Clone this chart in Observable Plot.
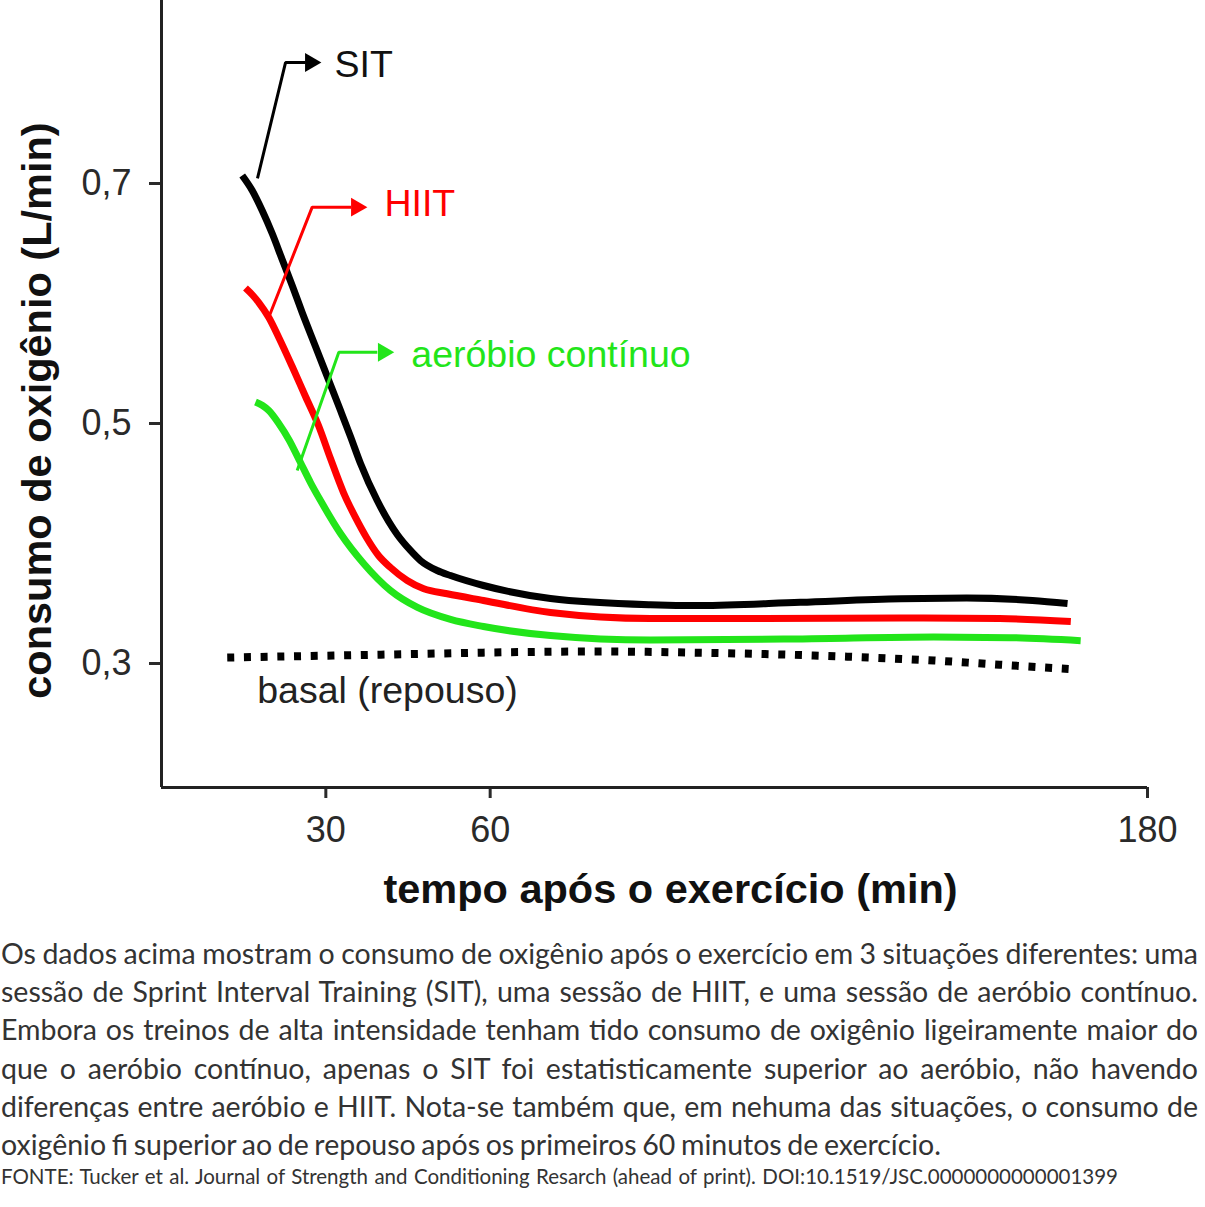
<!DOCTYPE html>
<html>
<head>
<meta charset="utf-8">
<script src="https://cdn.jsdelivr.net/npm/d3@7"></script>
<script src="https://cdn.jsdelivr.net/npm/@observablehq/plot@0.6"></script>
<style>
  html, body { margin: 0; padding: 0; background: #fff; }
  body { width: 1205px; }
  #chart svg { display: block; }
  #caption { font-family: Lato, "Open Sans", sans-serif; color: #333; padding-left: 1px; }
  .ln { font-size: 28.5px; line-height: 38.2px; height: 38.2px; white-space: nowrap; }
  .src { font-size: 20.5px; line-height: 26px; height: 26px; white-space: nowrap; }
  .fit { display: inline-block; }
</style>
</head>
<body>
<div id="chart"></div>
<div id="caption"></div>
<script>
// ---- data ----
const xTicks = [30, 60, 180];
const yTicks = [0.3, 0.5, 0.7];

const sitT = [14.73, 16.56, 18.38, 20.21, 22.03, 23.86, 25.68, 28.11, 30.54, 32.68, 34.5, 36.33, 39.38, 43.03, 45.45, 47.28, 50.33, 52.76, 58.78, 71.01, 89.27, 98.4, 116.6, 135, 147, 159, 165.4];
const sitV = [0.7067, 0.6942, 0.6775, 0.6583, 0.6367, 0.615, 0.5925, 0.5642, 0.5358, 0.5108, 0.4892, 0.4667, 0.4358, 0.4075, 0.3942, 0.3858, 0.3775, 0.3733, 0.365, 0.3542, 0.349, 0.3483, 0.351, 0.354, 0.3545, 0.3525, 0.350];

const hiitT = [15.33, 16.61, 17.76, 19.59, 21.41, 23.86, 26.29, 28.66, 30.85, 33.22, 35.41, 37.42, 39.61, 41.8, 44.85, 47.88, 52.15, 58.78, 71.01, 89.27, 110, 135, 153, 166];
const hiitV = [0.6129, 0.6071, 0.6008, 0.5883, 0.5717, 0.5475, 0.5225, 0.4983, 0.4708, 0.4425, 0.4217, 0.405, 0.39, 0.38, 0.3692, 0.3623, 0.3581, 0.3525, 0.3425, 0.3375, 0.3375, 0.338, 0.3375, 0.335];

const aerT = [17.16, 18.44, 19.59, 21.41, 23.24, 25.37, 27.2, 29.03, 32.68, 36.93, 41.8, 46.73, 52.76, 58.78, 71.01, 89.27, 117, 141, 155, 167.8];
const aerV = [0.5179, 0.515, 0.5108, 0.5, 0.4867, 0.4675, 0.4508, 0.4358, 0.4083, 0.3831, 0.3608, 0.3467, 0.3367, 0.3308, 0.3233, 0.3195, 0.3205, 0.322, 0.3215, 0.319];

const basalT = [12, 30, 47, 65, 80, 98, 117, 129, 141, 153, 165.6];
const basalV = [0.305, 0.3065, 0.308, 0.3095, 0.310, 0.309, 0.307, 0.305, 0.3025, 0.299, 0.2955];

const seriesNames = ["SIT", "HIIT", "aeróbio contínuo", "basal (repouso)"];
const xTitle = "tempo após o exercício (min)";
const yTitle = "consumo de oxigênio (L/min)";

const captionLines = [
  "Os dados acima mostram o consumo de oxigênio após o exercício em 3 situações diferentes: uma",
  "sessão de Sprint Interval Training (SIT), uma sessão de HIIT, e uma sessão de aeróbio contínuo.",
  "Embora os treinos de alta intensidade tenham tido consumo de oxigênio ligeiramente maior do",
  "que o aeróbio contínuo, apenas o SIT foi estatisticamente superior ao aeróbio, não havendo",
  "diferenças entre aeróbio e HIIT. Nota-se também que, em nehuma das situações, o consumo de",
  "oxigênio fi superior ao de repouso após os primeiros 60 minutos de exercício."
];
const sourceLine = "FONTE: Tucker et al. Journal of Strength and Conditioning Resarch (ahead of print). DOI:10.1519/JSC.0000000000001399";

// ---- helpers ----
const rows = (T, V) => T.map((t, i) => ({t, v: V[i]}));

// annotation leaders (label pointers) in data units
const leaders = [
  {color: "#000",    pts: [[17.52, 0.7042], [22.64, 0.8008], [26.3, 0.8008]], head: [27.2, 0.8008],
   label: seriesNames[0], lx: 31.6, ly: 0.7988, fill: "#111"},
  {color: "#ff0000", pts: [[19.59, 0.5886], [27.51, 0.6803], [34.6, 0.6803]], head: [35.6, 0.6803],
   label: seriesNames[1], lx: 40.7, ly: 0.6829, fill: "#ff0000"},
  {color: "#22e51a", pts: [[24.77, 0.4608], [32.37, 0.5594], [39.4, 0.5594]], head: [40.5, 0.5594],
   label: seriesNames[2], lx: 45.6, ly: 0.5571, fill: "#22e51a"}
];

const fmt = d => d.toFixed(1).replace(".", ",");
const lineOpts = {x: "t", y: "v", strokeWidth: 7, strokeLinecap: "butt", curve: "monotone-x"};

const chart = Plot.plot({
  width: 1205,
  height: 934,
  marginLeft: 161,
  marginRight: 58,
  marginTop: 0,
  marginBottom: 147,
  x: {domain: [0, 180]},
  y: {domain: [0.19667, 0.8525]},
  style: {fontFamily: "'Liberation Sans', Arial, sans-serif", fontSize: "36px", background: "#fff", overflow: "visible"},
  marks: [
    Plot.axisX({ticks: xTicks, tickSize: 11, tickPadding: 18, strokeWidth: 3, color: "#2a2a2a", label: null, tickFormat: d => String(d)}),
    Plot.axisY({ticks: yTicks, tickSize: 12, tickPadding: 18, strokeWidth: 3, color: "#2a2a2a", label: null, tickFormat: fmt}),
    Plot.ruleX([0], {stroke: "#222", strokeWidth: 3}),
    Plot.ruleY([0.19667], {stroke: "#222", strokeWidth: 3}),
    // basal dotted line
    Plot.line(rows(basalT, basalV), {x: "t", y: "v", stroke: "#000", strokeWidth: 8, strokeDasharray: "7,9.7", strokeLinecap: "butt", curve: "monotone-x"}),
    // curves
    Plot.line(rows(aerT, aerV), {...lineOpts, stroke: "#22e51a"}),
    Plot.line(rows(hiitT, hiitV), {...lineOpts, stroke: "#ff0000"}),
    Plot.line(rows(sitT, sitV), {...lineOpts, stroke: "#000"}),
    // leaders
    ...leaders.map(L => Plot.line(L.pts, {x: d => d[0], y: d => d[1], stroke: L.color, strokeWidth: 3, strokeLinecap: "butt", strokeLinejoin: "miter"})),
    ...leaders.map(L => Plot.dot([L.head], {x: d => d[0], y: d => d[1], symbol: "triangle", rotate: 90, r: 7, fill: L.color, stroke: null})),
    ...leaders.map(L => Plot.text([L.label], {x: () => L.lx, y: () => L.ly, text: d => d, fill: L.fill, textAnchor: "start", lineAnchor: "middle", fontSize: 37.5})),
    Plot.text([seriesNames[3]], {x: () => 17.47, y: () => 0.2775, text: d => d, fill: "#222", textAnchor: "start", lineAnchor: "middle", fontSize: 37.5}),
    // axis titles
    Plot.text([xTitle], {frameAnchor: "bottom", dx: 16, dy: 102, text: d => d, fontWeight: "bold", fontSize: 41.5, fill: "#111", lineAnchor: "middle"}),
    Plot.text([yTitle], {x: () => -22.6, y: () => 0.5108, rotate: -90, text: d => d, fontWeight: "bold", fontSize: 41.5, fill: "#111", lineAnchor: "middle", textAnchor: "middle"})
  ]
});
document.getElementById("chart").appendChild(chart);

// ---- caption ----
const cap = document.getElementById("caption");
const targets = [1197, 1197, 1197, 1197, 1197, 940];
captionLines.forEach((s, i) => {
  const div = document.createElement("div");
  div.className = "ln";
  const span = document.createElement("span");
  span.className = "fit";
  span.textContent = s;
  span.dataset.w = targets[i];
  div.appendChild(span);
  cap.appendChild(div);
});
{
  const div = document.createElement("div");
  div.className = "src";
  const span = document.createElement("span");
  span.className = "fit";
  span.textContent = sourceLine;
  span.dataset.w = 1117;
  div.appendChild(span);
  cap.appendChild(div);
}
document.querySelectorAll(".fit").forEach(el => {
  const target = +el.dataset.w;
  const w = el.getBoundingClientRect().width;
  const n = (el.textContent.match(/ /g) || []).length;
  if (n) el.style.wordSpacing = ((target - w) / n) + "px";
});
</script>
</body>
</html>
